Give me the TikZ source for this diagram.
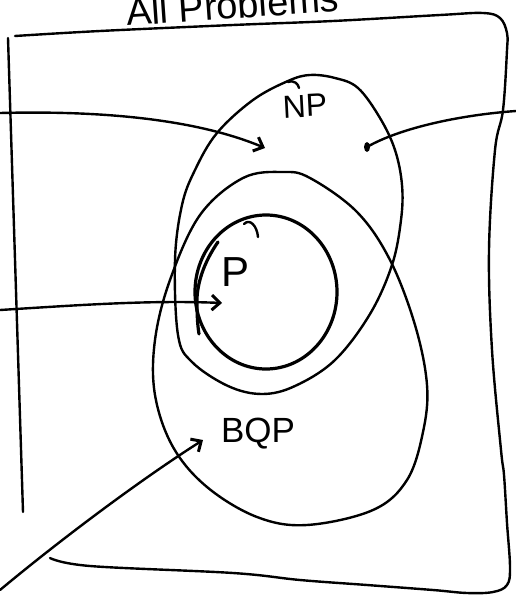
\documentclass[tikz,border=0pt]{standalone}
\usepackage{fontspec}
\setmainfont{Liberation Sans}
\usetikzlibrary{arrows.meta,shapes.geometric}
\tikzset{
  hand/.style={line width=2.4pt, line cap=round, line join=round},
  thick hand/.style={line width=3.2pt, line cap=round, line join=round},
  pointer/.style={hand, -{Straight Barb[length=8pt,width=15pt,line width=3pt]}},
  lbl/.style={inner sep=0pt, text=black},
}
\begin{document}
\begin{tikzpicture}[x=1pt,y=-1pt]
\clip (0,0) rectangle (516,602);
\fill[white] (0,0) rectangle (516,602);

% title (cut off at the top, as in the reference)
\node[lbl, anchor=base west, rotate=4, font=\fontsize{38}{40}\selectfont] (title) at (127,26) {All Problems};

% outer box
\draw[hand] (8,38) -- (23,512);
\draw[hand] plot[smooth, tension=0.6] coordinates {(15,36) (100,31) (233,25) (333,21) (440,15) (483,13) (500,18) (507,33) (507,50) (503,110) (495,150) (489,250) (492,350) (501,450) (504,475) (507,523) (510,567) (507,585) (493,592) (467,593) (433,590) (367,585) (300,580) (233,573) (90,566) (50,558)};

% NP region
\draw[hand] plot[smooth cycle, tension=0.6] coordinates {(310,75) (335,78) (358,88) (380,118) (395,150) (402,185) (401,220) (392,265) (370,314) (335,360) (295,386) (262,394) (228,386) (192,362) (178,335) (175,260) (182,205) (195,170) (217,133) (253,100) (288,81)};
\draw[hand] (288,82) .. controls (295,80) and (298,84) .. (299,88);

% BQP region
\draw[hand] plot[smooth cycle, tension=0.6] coordinates {(283,172) (310,178) (357,212) (390,260) (415,325) (427,385) (423,432) (407,480) (373,510) (307,525) (257,517) (207,487) (173,447) (155,395) (155,340) (170,280) (200,215) (243,178)};

% P region
\draw[thick hand] (266,292) ellipse[x radius=71, y radius=77];
\draw[thick hand] (218,242) .. controls (204,262) and (196,285) .. (197,305) .. controls (197,318) and (198,328) .. (199,334);
\draw[hand] (244,224) .. controls (250,218) and (257,226) .. (258,237);

% labels
\node[lbl, font=\fontsize{32}{34}\selectfont, rotate=3] (np) at (305,106) {NP};
\node[lbl, font=\fontsize{42}{44}\selectfont] (p) at (236,272) {P};
\node[lbl, font=\fontsize{35}{37}\selectfont] (bqp) at (258,434) {BQP};

% pointers
\coordinate (npFrom) at (0,113);
\coordinate (npTo) at (265,148);
\coordinate (pFrom) at (0,310);
\coordinate (pTo) at (222,303);
\coordinate (bqpFrom) at (0,590);
\coordinate (bqpTo) at (203,440);
\coordinate (dotFrom) at (516,111);
\node[fill=black, ellipse, inner sep=0pt, minimum width=6pt, minimum height=10pt] (dot) at (367,147) {};

\draw[pointer] (npFrom) .. controls (120,110) and (205,123) .. (npTo);
\draw[pointer] (pFrom) .. controls (80,305) and (150,300) .. (pTo);
\draw[pointer] (bqpFrom) .. controls (60,540) and (140,480) .. (bqpTo);
\draw[hand] (dotFrom) .. controls (460,115) and (400,128) .. (dot.center);
\end{tikzpicture}
\end{document}
